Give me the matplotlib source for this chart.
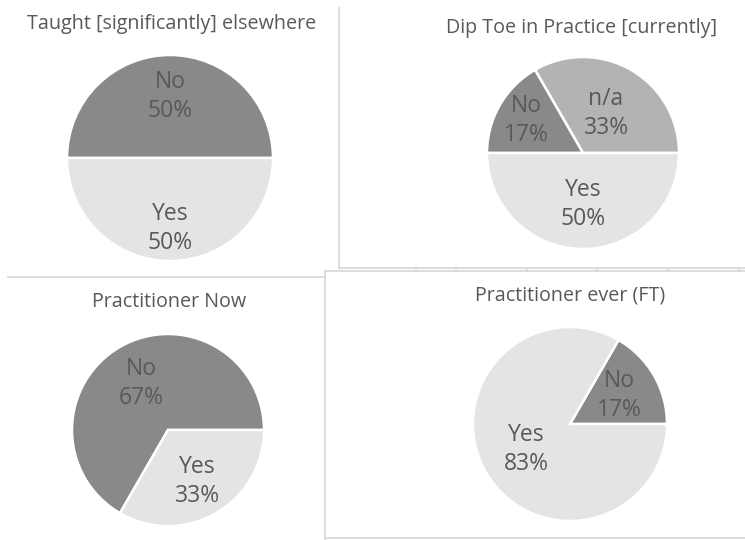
import numpy as np
import matplotlib.pyplot as plt
from matplotlib.lines import Line2D

# chart data (counts out of 6 respondents)
titles = ['Taught [significantly] elsewhere', 'Dip Toe in Practice [currently]',
          'Practitioner Now', 'Practitioner ever (FT)']
labels_taught = ['No', 'Yes']
counts_taught = [3, 3]
labels_dip = ['n/a', 'No', 'Yes']
counts_dip = [2, 1, 3]
labels_now = ['No', 'Yes']
counts_now = [4, 2]
labels_ever = ['No', 'Yes']
counts_ever = [1, 5]

W, H = 745, 540
slice_colors = {'No': '#898989', 'n/a': '#b3b3b3', 'Yes': '#e4e4e4'}
text_color = '#595959'
line_color = '#d9d9d9'

plt.rcParams['font.family'] = ['Open Sans', 'DejaVu Sans']

fig = plt.figure(figsize=(W / 100, H / 100), dpi=100)
fig.patch.set_facecolor('white')


def px_line(x0, y0, x1, y1):
    # line in pixel coords (origin top-left)
    fig.add_artist(Line2D([x0 / W, x1 / W], [1 - y0 / H, 1 - y1 / H],
                          color=line_color, lw=1.3, transform=fig.transFigure))


def draw_pie(cx, cy, r, labels, counts, title, tx, ty, label_dist):
    pad = 1.1
    ax = fig.add_axes([(cx - pad * r) / W, 1 - (cy + pad * r) / H,
                       2 * pad * r / W, 2 * pad * r / H])
    total = sum(counts)
    wedges, _ = ax.pie(
        counts, labels=None, startangle=0, counterclock=True,
        colors=[slice_colors[l] for l in labels],
        wedgeprops=dict(edgecolor='white', linewidth=1.8))
    # data labels like Excel's "category + percentage", placed per slice
    for w, lab, c, d in zip(wedges, labels, counts, label_dist):
        mid = np.deg2rad((w.theta1 + w.theta2) / 2)
        ax.text(d * np.cos(mid), d * np.sin(mid),
                f'{lab}\n{round(100 * c / total)}%',
                ha='center', va='center', fontsize=16.5, color=text_color,
                linespacing=1.28)
    ax.set_xlim(-pad, pad)
    ax.set_ylim(-pad, pad)
    ax.set_aspect('equal')
    ax.axis('off')
    fig.text(tx / W, 1 - ty / H, title, ha='center', va='center',
             fontsize=14.2, color=text_color)


# panel borders (Excel chart frames)
px_line(339, 8, 339, 268)
px_line(8, 277, 325, 277)
px_line(339, 268, 745, 268)
for x in [416, 456, 527, 597, 668, 739]:
    px_line(x, 268, x, 271)
px_line(325, 271, 745, 271)
px_line(325, 271, 325, 540)
px_line(325, 538, 745, 538)

draw_pie(170, 158, 103, labels_taught, counts_taught, titles[0], 172, 24, [0.6, 0.68])
draw_pie(583, 153, 96, labels_dip, counts_dip, titles[1], 582, 28, [0.48, 0.68, 0.54])
draw_pie(168, 430, 96, labels_now, counts_now, titles[2], 169, 302, [0.56, 0.62])
draw_pie(570, 424, 97, labels_ever, counts_ever, titles[3], 570, 296, [0.59, 0.52])

fig.savefig('out.png', dpi=100, facecolor='white')
